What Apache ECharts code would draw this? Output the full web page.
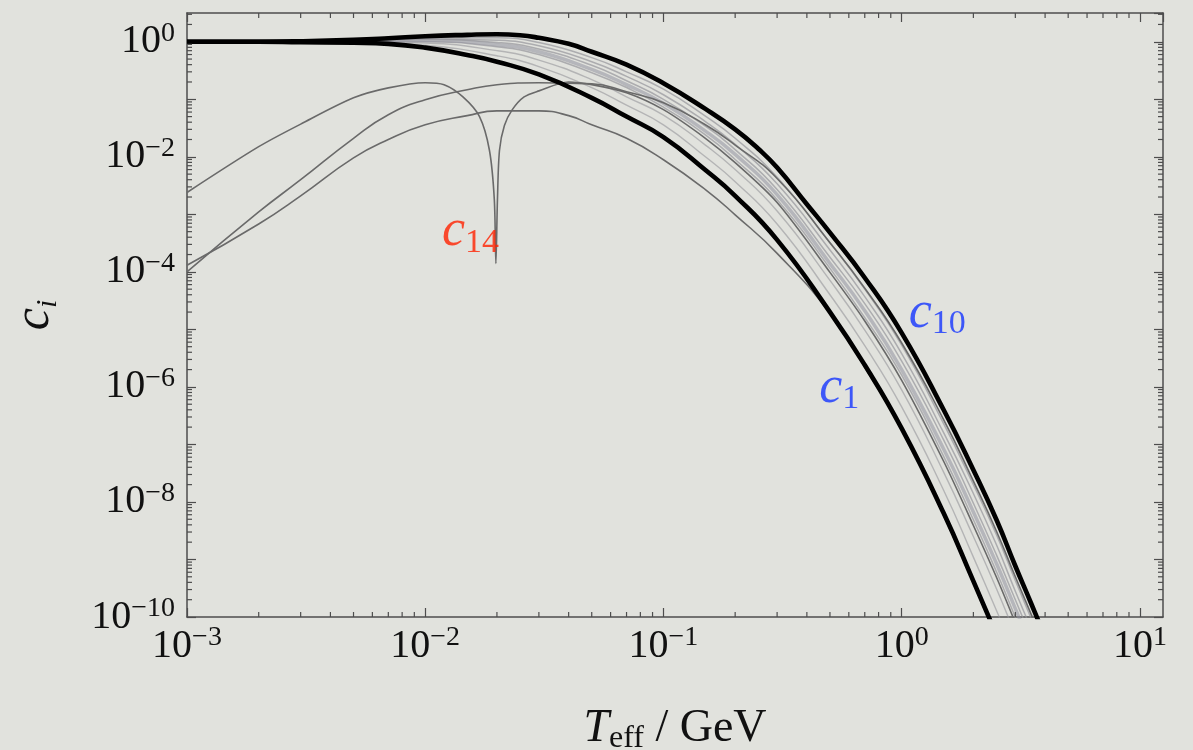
<!DOCTYPE html>
<html>
<head>
<meta charset="utf-8">
<title>c_i vs T_eff</title>
<script src="https://cdn.jsdelivr.net/npm/echarts@6/dist/echarts.min.js"></script>
<style>
  html, body { margin: 0; padding: 0; background: #e1e2dd; }
  #chart { width: 1193px; height: 750px; }
</style>
</head>
<body>
<div id="chart"></div>
<script>
// tick labels (exponents of ten)
const xTickExp = [-3, -2, -1, 0, 1]
const yTickExp = [0, -2, -4, -6, -8, -10]
const minorMantissa = [2, 3, 4, 5, 6, 7, 8, 9]

// thick curves: c1 (lower) and c10 (upper), [T, c]
const c1 = [[0.001, 1], [0.002, 1], [0.003, 0.98], [0.005, 0.96], [0.007, 0.92], [0.01, 0.79],
  [0.015, 0.59], [0.02, 0.45], [0.03, 0.27], [0.05, 0.106], [0.07, 0.05], [0.1, 0.022],
  [0.15, 5.9e-3], [0.2, 2.1e-3], [0.3, 3.6e-4], [0.5, 2.0e-5], [0.7, 2.4e-6], [1, 1.9e-7],
  [1.5, 6.4e-9], [2, 4.2e-10], [2.5, 4.9e-11]]
const c10 = [[0.001, 1], [0.002, 1], [0.003, 1.02], [0.005, 1.08], [0.007, 1.15], [0.01, 1.25],
  [0.015, 1.32], [0.02, 1.35], [0.025, 1.30], [0.03, 1.17], [0.04, 0.92], [0.05, 0.67],
  [0.07, 0.40], [0.1, 0.19], [0.15, 0.068], [0.2, 0.030], [0.25, 0.0138], [0.3, 6.5e-3],
  [0.4, 1.5e-3], [0.5, 4.8e-4], [0.7, 7.9e-5], [1, 8.7e-6], [1.5, 4.0e-7], [2, 3.6e-8],
  [2.5, 4.9e-9], [3, 7.7e-10], [3.5, 1.7e-10], [4, 4.5e-11]]

// dark grey curves
const c14 = [[0.001, 2.4e-3], [0.002, 0.015], [0.003, 0.037], [0.005, 0.106], [0.007, 0.158],
  [0.01, 0.194], [0.012, 0.179], [0.0144, 0.11], [0.0169, 0.05], [0.0186, 0.013], [0.0195, 1.8e-3],
  [0.0198, 1.4e-4], [0.0201, 1.8e-3], [0.0205, 0.013], [0.0215, 0.035], [0.0232, 0.066],
  [0.026, 0.11], [0.03, 0.14], [0.04, 0.20], [0.05, 0.18], [0.07, 0.13], [0.1, 0.066],
  [0.15, 0.021], [0.2, 7.9e-3], [0.3, 1.6e-3], [0.5, 9.8e-5], [0.7, 1.4e-5], [1, 1.3e-6],
  [1.5, 5.1e-8], [2, 3.9e-9], [2.5, 4.9e-10], [3, 7.9e-11]]
const cMid = [[0.001, 1.0e-4], [0.002, 1.1e-3], [0.003, 4.0e-3], [0.005, 0.021], [0.007, 0.054],
  [0.01, 0.098], [0.015, 0.146], [0.02, 0.179], [0.03, 0.194], [0.04, 0.19], [0.05, 0.186],
  [0.07, 0.135], [0.1, 0.087], [0.15, 0.036], [0.2, 0.016], [0.3, 4.2e-3], [0.5, 3.2e-4],
  [0.7, 5.2e-5], [1, 5.8e-6], [1.5, 2.7e-7], [2, 2.3e-8], [2.5, 3.1e-9], [3, 5.0e-10],
  [3.5, 1.1e-10], [4, 2.8e-11]]
const cLow = [[0.001, 1.3e-4], [0.002, 6.8e-4], [0.003, 2.1e-3], [0.005, 9.6e-3], [0.007, 0.020],
  [0.01, 0.036], [0.015, 0.052], [0.02, 0.063], [0.03, 0.063], [0.04, 0.052], [0.05, 0.036],
  [0.07, 0.021], [0.1, 8.9e-3], [0.15, 2.7e-3], [0.2, 9.8e-4], [0.3, 2.1e-4], [0.5, 1.9e-5],
  [0.7, 2.2e-6], [1, 1.8e-7], [1.5, 5.9e-9], [2, 3.9e-10], [2.5, 4.5e-11]]

// light grey bundle, shared T grid
const grayT = [0.001, 0.003, 0.005, 0.01, 0.02, 0.03, 0.05, 0.07, 0.1, 0.15, 0.2, 0.3, 0.5, 0.7, 1, 1.5, 2, 2.5, 3, 3.5]
const g1 = [1, 1, 0.99, 0.87, 0.57, 0.37, 0.16, 0.079, 0.036, 0.010, 3.7e-3, 6.8e-4, 4.0e-5, 5.2e-6, 4.5e-7, 1.6e-8, 1.1e-9, 1.3e-10, 2.2e-11, 4.8e-12]
const g2 = [1, 1, 1.0, 0.95, 0.70, 0.48, 0.22, 0.11, 0.053, 0.016, 6.0e-3, 1.14e-3, 7.1e-5, 9.7e-6, 8.9e-7, 3.3e-8, 2.5e-9, 3.1e-10, 5.0e-11, 1.1e-11]
const g3 = [1, 1, 1.03, 1.01, 0.82, 0.60, 0.29, 0.16, 0.073, 0.024, 9.0e-3, 1.8e-3, 1.15e-4, 1.6e-5, 1.6e-6, 6.2e-8, 4.9e-9, 6.1e-10, 9.9e-11, 2.1e-11]
const g4 = [1, 1, 1.03, 1.05, 0.89, 0.67, 0.33, 0.18, 0.085, 0.028, 0.011, 2.2e-3, 1.4e-4, 2.1e-5, 2.0e-6, 8.3e-8, 6.7e-9, 8.5e-10, 1.4e-10, 3.0e-11]
const g5 = [1, 1, 1.04, 1.09, 0.97, 0.75, 0.39, 0.21, 0.10, 0.034, 0.0133, 2.7e-3, 1.8e-4, 2.8e-5, 2.8e-6, 1.2e-7, 9.5e-9, 1.2e-9, 2.0e-10, 4.3e-11]
const g6 = [1, 1, 1.05, 1.13, 1.06, 0.85, 0.45, 0.25, 0.12, 0.041, 0.0165, 3.4e-3, 2.4e-4, 3.7e-5, 3.8e-6, 1.6e-7, 1.4e-8, 1.8e-9, 2.8e-10, 6.2e-11]
const g7 = [1, 1, 1.07, 1.17, 1.17, 0.97, 0.53, 0.30, 0.15, 0.051, 0.021, 4.4e-3, 3.2e-4, 5.0e-5, 5.3e-6, 2.3e-7, 2.0e-8, 2.7e-9, 4.3e-10, 9.3e-11]

// curve labels
const noteSub = ['14', '10', '1']
const noteT = [0.0155, 1.41, 0.547]
const noteC = [5.0e-4, 1.9e-5, 9.6e-7]

const X_MIN = -3, X_MAX = 1.097, Y_MIN = -10, Y_MAX = 0.5
const FONT = 'Liberation Serif'
const AXIS = '#4d4d4d'
const lg = Math.log10

const toLog = pts => pts.map(([t, c]) => [lg(t), lg(c)])
const grayLog = ys => grayT.map((t, i) => [lg(t), lg(ys[i])])

function powLabel(e) {
  const s = e < 0 ? '\u2212' + (-e) : String(e)
  return '{b|10}{s|' + s + '}'
}

function curve(name, data, color, width, z, smooth) {
  return {
    name, type: 'line', data: data, showSymbol: false, smooth: smooth == null ? 0.5 : smooth,
    lineStyle: { color, width }, z, silent: true, animation: false
  }
}

const minorX = []
xTickExp.slice(0, -1).forEach(k => minorMantissa.forEach(m => minorX.push([k + lg(m), Y_MIN])))
const minorY = []
for (let k = Y_MIN; k <= 0; k++) {
  minorMantissa.forEach(m => { if (k + lg(m) < Y_MAX) minorY.push([X_MIN, k + lg(m)]) })
}

const MAJOR = 9, MINOR = 5
const tickStyle = { stroke: AXIS, lineWidth: 1.2 }

const labelRich = {
  b: { fontFamily: FONT, fontSize: 40, lineHeight: 44, color: '#111' },
  s: { fontFamily: FONT, fontSize: 28, lineHeight: 26, verticalAlign: 'top', color: '#111' }
}

function axisCommon() {
  return {
    type: 'value',
    axisLine: { show: true, onZero: false, lineStyle: { color: AXIS, width: 1.5 } },
    axisTick: { show: true, inside: true, length: MAJOR, lineStyle: { color: AXIS, width: 1.2 } },
    splitLine: { show: false },
    interval: 1
  }
}

const chart = echarts.init(document.getElementById('chart'))

chart.setOption({
  backgroundColor: '#e1e2dd',
  animation: false,
  grid: { left: 187, right: 30, top: 13, bottom: 133, containLabel: false, outerBoundsMode: 'none' },
  xAxis: [
    Object.assign(axisCommon(), {
      min: X_MIN, max: X_MAX, position: 'bottom',
      axisLabel: {
        margin: 7, rich: labelRich, showMaxLabel: false,
        formatter: v => (Number.isInteger(v) && xTickExp.includes(v)) ? powLabel(v) : ''
      },
      name: '{t|T}{e|eff}{g| / GeV}',
      nameLocation: 'middle', nameGap: 86,
      nameTextStyle: {
        rich: {
          t: { fontFamily: FONT, fontStyle: 'italic', fontSize: 46, lineHeight: 52, color: '#111' },
          e: { fontFamily: FONT, fontSize: 32, lineHeight: 34, verticalAlign: 'bottom', color: '#111' },
          g: { fontFamily: FONT, fontSize: 46, lineHeight: 52, color: '#111' }
        }
      }
    }),
    Object.assign(axisCommon(), {
      min: X_MIN, max: X_MAX, position: 'top', axisLabel: { show: false }
    })
  ],
  yAxis: [
    Object.assign(axisCommon(), {
      min: Y_MIN, max: Y_MAX, position: 'left',
      axisLabel: {
        margin: 12, rich: labelRich, showMaxLabel: false,
        formatter: v => (Number.isInteger(v) && yTickExp.includes(v)) ? powLabel(v) : ''
      },
      name: '{c|c}{i|i}',
      nameLocation: 'middle', nameRotate: 90, nameGap: 124,
      nameTextStyle: {
        rich: {
          c: { fontFamily: FONT, fontStyle: 'italic', fontSize: 50, lineHeight: 56, color: '#111' },
          i: { fontFamily: FONT, fontStyle: 'italic', fontSize: 30, lineHeight: 34, verticalAlign: 'bottom', color: '#111' }
        }
      }
    }),
    Object.assign(axisCommon(), {
      min: Y_MIN, max: Y_MAX, position: 'right', axisLabel: { show: false }
    })
  ],
  series: [
    curve('g1', grayLog(g1), 'rgba(150,150,155,0.6)', 1.4, 2),
    curve('g2', grayLog(g2), 'rgba(150,150,155,0.6)', 1.4, 2),
    curve('g3', grayLog(g3), 'rgba(150,150,155,0.7)', 1.5, 2),
    curve('g4', grayLog(g4), 'rgba(145,145,158,0.55)', 3.5, 2),
    curve('g5', grayLog(g5), 'rgba(150,150,155,0.7)', 1.5, 2),
    curve('g6', grayLog(g6), 'rgba(150,150,155,0.7)', 1.5, 2),
    curve('g7', grayLog(g7), 'rgba(150,150,155,0.7)', 1.5, 2),
    curve('c14', toLog(c14), '#6a6a6a', 1.6, 3, 0.3),
    curve('cMid', toLog(cMid), '#6a6a6a', 1.6, 3),
    curve('cLow', toLog(cLow), '#6a6a6a', 1.6, 3),
    curve('c1', toLog(c1), '#000000', 4.6, 5),
    curve('c10', toLog(c10), '#000000', 4.6, 5),
    {
      name: 'minorX', type: 'custom', data: minorX, silent: true, z: 6,
      renderItem(params, api) {
        const cs = params.coordSys
        const px = api.coord([api.value(0), Y_MIN])[0]
        const yb = cs.y + cs.height
        return {
          type: 'group', children: [
            { type: 'line', shape: { x1: px, y1: yb, x2: px, y2: yb - MINOR }, style: tickStyle },
            { type: 'line', shape: { x1: px, y1: cs.y, x2: px, y2: cs.y + MINOR }, style: tickStyle }
          ]
        }
      }
    },
    {
      name: 'minorY', type: 'custom', data: minorY, silent: true, z: 6,
      renderItem(params, api) {
        const cs = params.coordSys
        const py = api.coord([X_MIN, api.value(1)])[1]
        const xr = cs.x + cs.width
        return {
          type: 'group', children: [
            { type: 'line', shape: { x1: cs.x, y1: py, x2: cs.x + MINOR, y2: py }, style: tickStyle },
            { type: 'line', shape: { x1: xr, y1: py, x2: xr - MINOR, y2: py }, style: tickStyle }
          ]
        }
      }
    },
    {
      name: 'notes', type: 'scatter', symbolSize: 1, silent: true, z: 7,
      itemStyle: { color: 'rgba(0,0,0,0)' },
      data: noteT.map((t, i) => ({
        value: [lg(t), lg(noteC[i])],
        label: {
          show: true, position: 'inside',
          formatter: i === 0 ? '{r|c}{rs|' + noteSub[i] + '}' : '{u|c}{us|' + noteSub[i] + '}'
        }
      })),
      label: {
        rich: {
          r: { fontFamily: FONT, fontStyle: 'italic', fontSize: 52, lineHeight: 56, color: '#ff2200' },
          rs: { fontFamily: FONT, fontSize: 34, lineHeight: 36, verticalAlign: 'bottom', color: '#ff2200' },
          u: { fontFamily: FONT, fontStyle: 'italic', fontSize: 52, lineHeight: 56, color: '#1434ff' },
          us: { fontFamily: FONT, fontSize: 34, lineHeight: 36, verticalAlign: 'bottom', color: '#1434ff' }
        }
      }
    }
  ]
})
</script>
</body>
</html>
